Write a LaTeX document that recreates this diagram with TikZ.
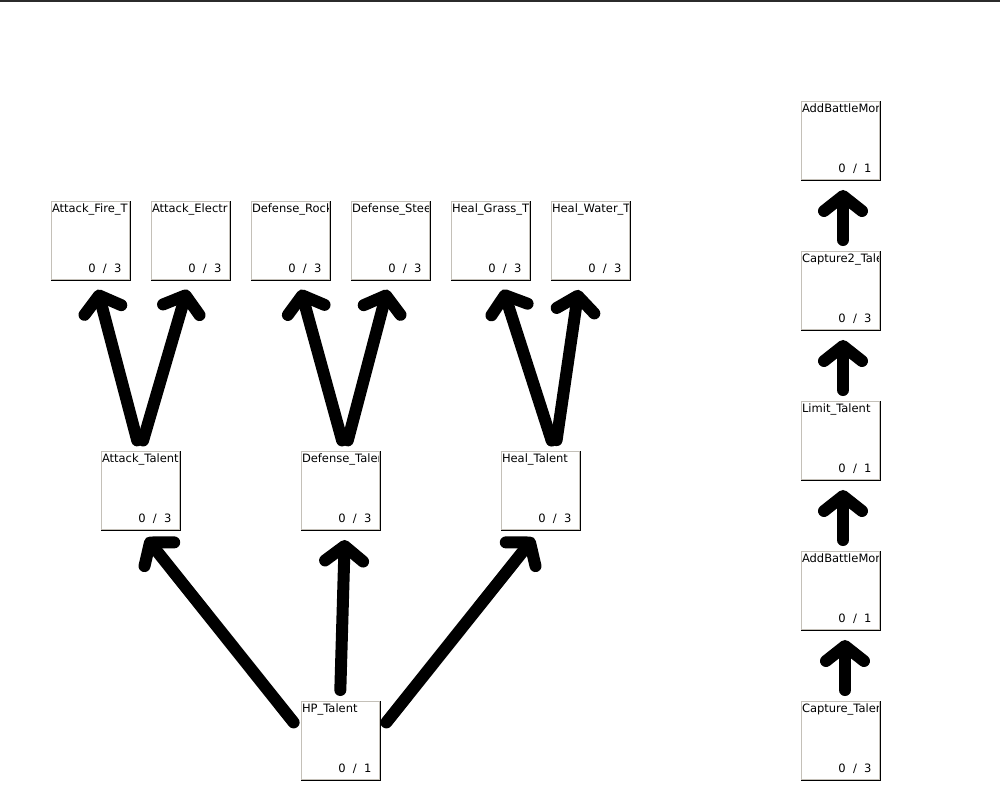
\documentclass[tikz,border=0pt]{standalone}
\usepackage{fontspec}
\setmainfont{DejaVu Sans}
\usetikzlibrary{arrows.meta, positioning}
\definecolor{boxgray}{RGB}{196,192,184}
\definecolor{topline}{RGB}{43,43,43}
\tikzstyle{talent} = [rectangle, minimum width=78pt, minimum height=78pt, inner sep=0pt, draw=boxgray, line width=1pt, fill=white, append after command={\pgfextra{\draw[black, line width=2pt] (\tikzlastnode.north east) -- (\tikzlastnode.south east) -- (\tikzlastnode.south west);}}]
\tikzstyle{ttext} = [inner sep=0pt, minimum width=0pt, minimum height=0pt, draw=none, fill=none, path picture={}, font=\fontsize{11.5}{13.8}\selectfont]
\tikzstyle{arrow} = [line width=12pt, line cap=round, line join=round, -{Straight Barb[length=15pt, width=38pt, round]}, shorten <=11pt, shorten >=10pt]
\tikzset{tname/.style n args={3}{path picture={
    \node (#1lbl) [ttext, anchor=base west] at ([xshift=0.5pt, yshift=-10.5pt]path picture bounding box.north west) {#2};
    \node (#1cnt) [ttext, anchor=base east] at ([xshift=-7pt, yshift=7pt]path picture bounding box.south east) {0\ \ /\ \ #3};}}}

\begin{document}
\begin{tikzpicture}[x=1pt, y=-1pt, node distance=100pt]
    \useasboundingbox (0,0) rectangle (1000,801);
    \fill[topline] (0,0) rectangle (1000,1.5);

    %nodes
    \node (fire) [talent, tname={fire}{Attack\_Fire\_T}{3}] at (90,240.5) {};
    \node (elec) [talent, tname={elec}{Attack\_Electr}{3}, right of=fire] {};
    \node (rod) [talent, tname={rod}{Defense\_Rock}{3}, right of=elec] {};
    \node (steel) [talent, tname={steel}{Defense\_Stee}{3}, right of=rod] {};
    \node (grass) [talent, tname={grass}{Heal\_Grass\_T}{3}, right of=steel] {};
    \node (water) [talent, tname={water}{Heal\_Water\_T}{3}, right of=grass] {};

    \node (atk) [talent, tname={atk}{Attack\_Talent}{3}] at (140,490.5) {};
    \node (def) [talent, tname={def}{Defense\_Talen}{3}, right of=atk, xshift=100pt] {};
    \node (heal) [talent, tname={heal}{Heal\_Talent}{3}, right of=def, xshift=100pt] {};
    \node (hp) [talent, tname={hp}{HP\_Talent}{1}, below of=def, yshift=-150pt] {};

    \node (capture) [talent, tname={capture}{Capture\_Talen}{3}] at (840,740.5) {};
    \node (addmon) [talent, tname={addmon}{AddBattleMon}{1}, above of=capture, yshift=50pt] {};
    \node (limit) [talent, tname={limit}{Limit\_Talent}{1}, above of=addmon, yshift=50pt] {};
    \node (capture2) [talent, tname={capture2}{Capture2\_Tale}{3}, above of=limit, yshift=50pt] {};
    \node (addmon2) [talent, tname={addmon2}{AddBattleMon}{1}, above of=capture2, yshift=50pt] {};

    %arrows
    \draw [arrow] (atk.north) -- ([xshift=5pt]fire.south);
    \draw [arrow] (atk.north) -- (elec.south);
    \draw [arrow] ([xshift=5pt]def.north) -- ([xshift=8pt]rod.south);
    \draw [arrow] ([xshift=5pt]def.north) -- (steel.south);
    \draw [arrow] ([xshift=15pt]heal.north) -- ([xshift=10pt]grass.south);
    \draw [arrow] ([xshift=15pt]heal.north) -- ([xshift=-10pt]water.south);

    \draw [arrow] ([yshift=-30pt]hp.north west) -- (atk.south);
    \draw [arrow] (hp.north) -- ([xshift=5pt]def.south);
    \draw [arrow] ([yshift=-30pt]hp.north east) -- (heal.south);

    \draw [arrow] ([xshift=5pt]capture.north) -- ([xshift=5pt]addmon.south);
    \draw [arrow] ([xshift=3pt]addmon.north) -- ([xshift=3pt]limit.south);
    \draw [arrow] ([xshift=3pt]limit.north) -- ([xshift=3pt]capture2.south);
    \draw [arrow] ([xshift=3pt]capture2.north) -- ([xshift=3pt]addmon2.south);

\end{tikzpicture}
\end{document}
